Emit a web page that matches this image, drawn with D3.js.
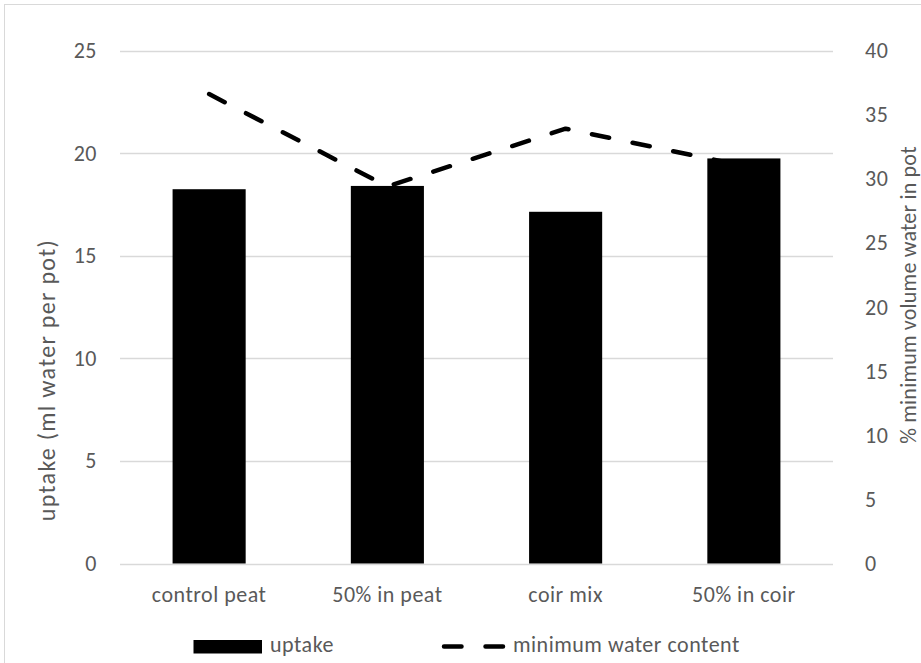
<!DOCTYPE html>
<html><head><meta charset="utf-8">
<script src="https://cdn.jsdelivr.net/npm/d3@7"></script>
<style>
html,body{margin:0;padding:0;background:#fff;}
svg{display:block;}
text{font-family:Carlito,Calibri,Lato,"Open Sans",sans-serif;fill:#595959;}
</style></head>
<body>
<svg id="chart" width="921" height="663"></svg>
<script>
const categories = ["control peat","50% in peat","coir mix","50% in coir"];
const uptake = [18.24, 18.40, 17.14, 19.74];
const minWater = [36.6, 29.4, 33.9, 31.0];
const leftTicks = [0,5,10,15,20,25];
const rightTicks = [0,5,10,15,20,25,30,35,40];
const seriesNames = ["uptake","minimum water content"];

const svg = d3.select("#chart");
const W = 921, H = 663;
const plot = {left:120, right:833, top:50.5, bottom:563.5};
const FS = 22, LS = 0.5;
const FF = "Carlito,Calibri,Lato,'Open Sans',sans-serif";

svg.append("rect").attr("x",0).attr("y",0).attr("width",W).attr("height",H).attr("fill","#fff");
svg.append("rect").attr("x",4.5).attr("y",4.5).attr("width",1000).attr("height",1000)
  .attr("fill","none").attr("stroke","#d9d9d9").attr("stroke-width",1);

const x = d3.scaleBand().domain(categories).range([plot.left, plot.right]).padding(0);
const yL = d3.scaleLinear().domain([0,25]).range([plot.bottom, plot.top]);
const yR = d3.scaleLinear().domain([0,40]).range([plot.bottom, plot.top]);
const barW = x.bandwidth()*0.41;

function styleText(sel){
  sel.attr("font-size",FS).style("font-family",FF).attr("fill","#595959").style("letter-spacing",LS+"px");
}

// gridlines
svg.append("g").selectAll("line").data(leftTicks).join("line")
  .attr("x1",plot.left).attr("x2",plot.right)
  .attr("y1",d=>Math.round(yL(d))+0.5).attr("y2",d=>Math.round(yL(d))+0.5)
  .attr("stroke","#d9d9d9").attr("stroke-width",1.3);

// left axis
const axL = d3.axisLeft(yL).tickValues(leftTicks).tickSize(0).tickPadding(0);
const gL = svg.append("g").attr("transform",`translate(97,0)`).call(axL);
gL.select(".domain").remove();
styleText(gL.selectAll("text"));

// right axis
const axR = d3.axisRight(yR).tickValues(rightTicks).tickSize(0).tickPadding(0);
const gR = svg.append("g").attr("transform",`translate(865,0)`).call(axR);
gR.select(".domain").remove();
styleText(gR.selectAll("text"));

// bottom axis labels
const axB = d3.axisBottom(x).tickSize(0).tickPadding(0);
const gB = svg.append("g").attr("transform",`translate(0,602)`).call(axB);
gB.select(".domain").remove();
styleText(gB.selectAll("text").attr("dy","0").attr("y",0));

// bars
svg.append("g").selectAll("rect").data(categories).join("rect")
  .attr("x",(d)=>x(d)+x.bandwidth()/2-barW/2)
  .attr("width",barW)
  .attr("y",(d,i)=>yL(uptake[i]))
  .attr("height",(d,i)=>plot.bottom-yL(uptake[i]))
  .attr("fill","#000");

// line
const line = d3.line().x((d,i)=>x(categories[i])+x.bandwidth()/2).y(d=>yR(d));
svg.append("path").datum(minWater).attr("d",line)
  .attr("fill","none").attr("stroke","#000").attr("stroke-width",4.5)
  .attr("stroke-linecap","round").attr("stroke-linejoin","round")
  .attr("stroke-dasharray","17.5 24");

// axis titles
svg.append("text").attr("transform","translate(55,380) rotate(-90)")
  .attr("text-anchor","middle").attr("font-size",24).style("letter-spacing","1.3px")
  .text("uptake (ml water per pot)");
svg.append("text").attr("transform","translate(916,295) rotate(-90)")
  .attr("text-anchor","middle").attr("font-size",22).style("letter-spacing","0.2px")
  .text("% minimum volume water in pot");

// legend
const lg = svg.append("g");
lg.append("rect").attr("x",193.5).attr("y",640).attr("width",68.5).attr("height",13.5).attr("fill","#000");
lg.append("text").attr("x",270).attr("y",652).attr("font-size",FS).style("letter-spacing",LS+"px").text(seriesNames[0]);
lg.append("line").attr("x1",444).attr("x2",504).attr("y1",646.5).attr("y2",646.5)
  .attr("stroke","#000").attr("stroke-width",4.5).attr("stroke-linecap","round")
  .attr("stroke-dasharray","17.5 24");
lg.append("text").attr("x",513).attr("y",652).attr("font-size",FS).style("letter-spacing",LS+"px").text(seriesNames[1]);
</script>
</body></html>
